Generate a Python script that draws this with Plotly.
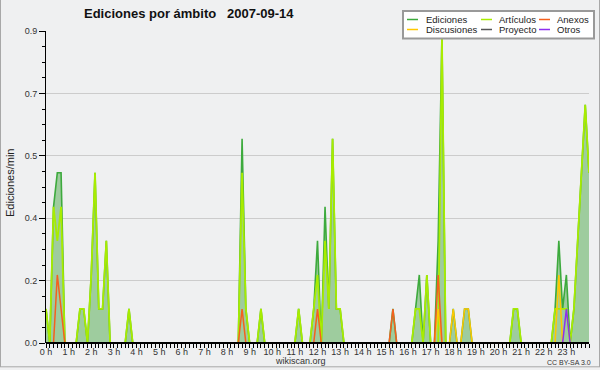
import plotly.graph_objects as go

# ---- data: edits per minute, 10-minute slots from 00:00 to 24:00 (145 slots) ----
minutes = list(range(0, 24 * 60 + 1, 10))
hours = [m / 60 for m in minutes]

ediciones = [
    0.1, 0, 0.4, 0.5, 0.5, 0,      # 0 h
    0, 0, 0, 0.1, 0.1, 0,          # 1 h
    0.2, 0.5, 0.1, 0.1, 0.3, 0,    # 2 h
    0, 0, 0, 0, 0.1, 0,            # 3 h
    0, 0, 0, 0, 0, 0,              # 4 h
    0, 0, 0, 0, 0, 0,              # 5 h
    0, 0, 0, 0, 0, 0,              # 6 h
    0, 0, 0, 0, 0, 0,              # 7 h
    0, 0, 0, 0, 0.6, 0.1,          # 8 h
    0, 0, 0, 0.1, 0, 0,            # 9 h
    0, 0, 0, 0, 0, 0,              # 10 h
    0, 0.1, 0, 0, 0, 0.1,          # 11 h
    0.3, 0, 0.4, 0.1, 0.6, 0.1,    # 12 h
    0.1, 0, 0, 0, 0, 0,            # 13 h
    0, 0, 0, 0, 0, 0,              # 14 h
    0, 0, 0.1, 0, 0, 0,            # 15 h
    0, 0, 0.1, 0.2, 0, 0.2,        # 16 h
    0, 0, 0.3, 0.9, 0, 0,          # 17 h
    0.1, 0, 0, 0.1, 0.1, 0,        # 18 h
    0, 0, 0, 0, 0, 0,              # 19 h
    0, 0, 0, 0, 0.1, 0.1,          # 20 h
    0, 0, 0, 0, 0, 0,              # 21 h
    0, 0, 0, 0.1, 0.3, 0.1,        # 22 h
    0.2, 0, 0.1, 0.3, 0.5, 0.7,    # 23 h
    0.5,
]

articulos = [
    0.1, 0, 0.4, 0.3, 0.4, 0,      # 0 h
    0, 0, 0, 0.1, 0.1, 0,          # 1 h
    0.2, 0.5, 0.1, 0.1, 0.3, 0,    # 2 h
    0, 0, 0, 0, 0.1, 0,            # 3 h
    0, 0, 0, 0, 0, 0,              # 4 h
    0, 0, 0, 0, 0, 0,              # 5 h
    0, 0, 0, 0, 0, 0,              # 6 h
    0, 0, 0, 0, 0, 0,              # 7 h
    0, 0, 0, 0, 0.5, 0.1,          # 8 h
    0, 0, 0, 0.1, 0, 0,            # 9 h
    0, 0, 0, 0, 0, 0,              # 10 h
    0, 0.1, 0, 0, 0, 0.1,          # 11 h
    0.2, 0, 0.3, 0.1, 0.6, 0.1,    # 12 h
    0.1, 0, 0, 0, 0, 0,            # 13 h
    0, 0, 0, 0, 0, 0,              # 14 h
    0, 0, 0, 0, 0, 0,              # 15 h
    0, 0, 0.1, 0.1, 0, 0.2,        # 16 h
    0, 0, 0, 0.9, 0, 0,            # 17 h
    0, 0, 0, 0, 0, 0,              # 18 h
    0, 0, 0, 0, 0, 0,              # 19 h
    0, 0, 0, 0, 0.1, 0.1,          # 20 h
    0, 0, 0, 0, 0, 0,              # 21 h
    0, 0, 0, 0.1, 0.1, 0.1,        # 22 h
    0.1, 0, 0.1, 0.3, 0.5, 0.7,    # 23 h
    0.5,
]

anexos = [
    0, 0, 0, 0.2, 0.1, 0,          # 0 h
    0, 0, 0, 0, 0, 0,              # 1 h
    0, 0, 0, 0, 0, 0,              # 2 h
    0, 0, 0, 0, 0, 0,              # 3 h
    0, 0, 0, 0, 0, 0,              # 4 h
    0, 0, 0, 0, 0, 0,              # 5 h
    0, 0, 0, 0, 0, 0,              # 6 h
    0, 0, 0, 0, 0, 0,              # 7 h
    0, 0, 0, 0, 0.1, 0,            # 8 h
    0, 0, 0, 0, 0, 0,              # 9 h
    0, 0, 0, 0, 0, 0,              # 10 h
    0, 0, 0, 0, 0, 0,              # 11 h
    0.1, 0, 0, 0, 0, 0,            # 12 h
    0, 0, 0, 0, 0, 0,              # 13 h
    0, 0, 0, 0, 0, 0,              # 14 h
    0, 0, 0.1, 0, 0, 0,            # 15 h
    0, 0, 0, 0, 0, 0,              # 16 h
    0, 0, 0.2, 0, 0, 0,            # 17 h
    0, 0, 0, 0, 0, 0,              # 18 h
    0, 0, 0, 0, 0, 0,              # 19 h
    0, 0, 0, 0, 0, 0,              # 20 h
    0, 0, 0, 0, 0, 0,              # 21 h
    0, 0, 0, 0, 0, 0,              # 22 h
    0, 0, 0, 0, 0, 0,              # 23 h
    0,
]

discusiones = [
    0, 0, 0, 0, 0, 0,              # 0 h
    0, 0, 0, 0, 0, 0,              # 1 h
    0, 0, 0, 0, 0, 0,              # 2 h
    0, 0, 0, 0, 0, 0,              # 3 h
    0, 0, 0, 0, 0, 0,              # 4 h
    0, 0, 0, 0, 0, 0,              # 5 h
    0, 0, 0, 0, 0, 0,              # 6 h
    0, 0, 0, 0, 0, 0,              # 7 h
    0, 0, 0, 0, 0, 0,              # 8 h
    0, 0, 0, 0, 0, 0,              # 9 h
    0, 0, 0, 0, 0, 0,              # 10 h
    0, 0, 0, 0, 0, 0,              # 11 h
    0, 0, 0, 0, 0, 0,              # 12 h
    0, 0, 0, 0, 0, 0,              # 13 h
    0, 0, 0, 0, 0, 0,              # 14 h
    0, 0, 0, 0, 0, 0,              # 15 h
    0, 0, 0, 0, 0, 0,              # 16 h
    0, 0, 0.1, 0, 0, 0,            # 17 h
    0.1, 0, 0, 0.1, 0.1, 0,        # 18 h
    0, 0, 0, 0, 0, 0,              # 19 h
    0, 0, 0, 0, 0, 0,              # 20 h
    0, 0, 0, 0, 0, 0,              # 21 h
    0, 0, 0, 0, 0.2, 0,            # 22 h
    0, 0, 0, 0, 0, 0,              # 23 h
    0,
]

proyecto = [0] * 145

otros = [
    0, 0, 0, 0, 0, 0,              # 0 h
    0, 0, 0, 0, 0, 0,              # 1 h
    0, 0, 0, 0, 0, 0,              # 2 h
    0, 0, 0, 0, 0, 0,              # 3 h
    0, 0, 0, 0, 0, 0,              # 4 h
    0, 0, 0, 0, 0, 0,              # 5 h
    0, 0, 0, 0, 0, 0,              # 6 h
    0, 0, 0, 0, 0, 0,              # 7 h
    0, 0, 0, 0, 0, 0,              # 8 h
    0, 0, 0, 0, 0, 0,              # 9 h
    0, 0, 0, 0, 0, 0,              # 10 h
    0, 0, 0, 0, 0, 0,              # 11 h
    0, 0, 0, 0, 0, 0,              # 12 h
    0, 0, 0, 0, 0, 0,              # 13 h
    0, 0, 0, 0, 0, 0,              # 14 h
    0, 0, 0, 0, 0, 0,              # 15 h
    0, 0, 0, 0, 0, 0,              # 16 h
    0, 0, 0, 0, 0, 0,              # 17 h
    0, 0, 0, 0, 0, 0,              # 18 h
    0, 0, 0, 0, 0, 0,              # 19 h
    0, 0, 0, 0, 0, 0,              # 20 h
    0, 0, 0, 0, 0, 0,              # 21 h
    0, 0, 0, 0, 0, 0,              # 22 h
    0.1, 0, 0, 0, 0, 0,            # 23 h
    0,
]

hour_ticks = list(range(24))
hour_labels = [f"{h} h" for h in hour_ticks]

y_max = 0.91667
y_step = y_max / 5
y_tickvals = [k * y_step for k in range(6)]
y_ticktext = ["0.0", "0.2", "0.4", "0.5", "0.7", "0.9"]

# ---- styling ----
BG = "#eff0f1"
C_ED = "#3daa3d"
C_ART = "#a8ec00"
C_ANE = "#f5601e"
C_DIS = "#ffc800"
C_PRO = "#555555"
C_OTR = "#8e2ff0"
NARROW = "Liberation Sans Narrow, Liberation Sans, Arial, sans-serif"
SANS = "Liberation Sans, Arial, sans-serif"

W, H = 600, 370
ML, MR, MT, MB = 46, 11, 31, 27
PW, PH = W - ML - MR, H - MT - MB


def px(x):
    return (x - ML) / PW


def py(y):
    return (H - MB - y) / PH


fig = go.Figure()
fig.add_trace(go.Scatter(x=hours, y=ediciones, name="Ediciones", mode="lines",
                         line=dict(color=C_ED, width=1.6), fill="tozeroy",
                         fillcolor="#9ecc9e"))
fig.add_trace(go.Scatter(x=hours, y=proyecto, name="Proyecto", mode="lines",
                         line=dict(color=C_PRO, width=1.4)))
fig.add_trace(go.Scatter(x=hours, y=articulos, name="Artículos", mode="lines",
                         line=dict(color=C_ART, width=1.8)))
fig.add_trace(go.Scatter(x=hours, y=discusiones, name="Discusiones", mode="lines",
                         line=dict(color=C_DIS, width=1.5)))
fig.add_trace(go.Scatter(x=hours, y=anexos, name="Anexos", mode="lines",
                         line=dict(color=C_ANE, width=1.5)))
fig.add_trace(go.Scatter(x=hours, y=otros, name="Otros", mode="lines",
                         line=dict(color=C_OTR, width=1.5)))

minor_y = [k * y_step / 4 for k in range(21) if k % 4]

fig.update_layout(
    width=W, height=H,
    margin=dict(l=ML, r=MR, t=MT, b=MB, autoexpand=False),
    paper_bgcolor=BG, plot_bgcolor=BG,
    showlegend=False,
    xaxis=dict(range=[0, 24], tickmode="array", tickvals=hour_ticks, ticktext=hour_labels,
               automargin=False,
               showgrid=False, zeroline=False, showline=False,
               ticks="outside", ticklen=4, tickcolor="black", tickwidth=1,
               ticklabelstandoff=-4,
               tickfont=dict(family=NARROW, size=9, color="#333"),
               minor=dict(dtick=1 / 6, ticks="outside", ticklen=4, tickcolor="black", showgrid=False)),
    yaxis=dict(range=[0, y_max], tickmode="array", tickvals=y_tickvals, ticktext=y_ticktext,
               automargin=False,
               showgrid=True, gridcolor="#cccccc", gridwidth=1, zeroline=False,
               showline=True, linecolor="black", linewidth=1,
               ticks="outside", ticklen=6, tickcolor="black", tickwidth=1,
               tickfont=dict(family=NARROW, size=9, color="#333"),
               minor=dict(tickmode="array", tickvals=minor_y, ticks="outside", ticklen=3,
                          tickcolor="black", showgrid=False)),
)

annotations = [
    dict(text="<b>Ediciones por ámbito   2007-09-14</b>", x=px(188.5), y=py(13.5),
         font=dict(family=SANS, size=13, color="#111")),
    dict(text="Ediciones/min", x=px(10), y=py(183), textangle=-90,
         font=dict(family=SANS, size=11, color="#222")),
    dict(text="wikiscan.org", x=px(300.8), y=py(361),
         font=dict(family=SANS, size=9, color="#333")),
    dict(text="CC BY-SA 3.0", x=px(569), y=py(362),
         font=dict(family=NARROW, size=7, color="#333")),
]
for a in annotations:
    a.update(xref="paper", yref="paper", showarrow=False, xanchor="center", yanchor="middle")

shapes = [
    # x axis baseline (drawn over the zero level of the series)
    dict(type="line", x0=0, x1=1, y0=0, y1=0, line=dict(color="black", width=2)),
    # frame lines around image
    dict(type="line", x0=px(0.5), x1=px(0.5), y0=py(0), y1=py(367), line=dict(color="#a8a8a8", width=1)),
    dict(type="line", x0=px(599.5), x1=px(599.5), y0=py(0), y1=py(367), line=dict(color="#a8a8a8", width=1)),
    dict(type="line", x0=px(0), x1=px(600), y0=py(366.8), y1=py(366.8), line=dict(color="#a8a8a8", width=1)),
    # legend box
    dict(type="rect", x0=px(403), x1=px(594), y0=py(11), y1=py(38.5),
         fillcolor="white", line=dict(color="#999999", width=2)),
]

legend_items = [
    ("Ediciones", C_ED, 407, 424, 19.5),
    ("Artículos", C_ART, 481, 497, 19.5),
    ("Anexos", C_ANE, 539, 555, 19.5),
    ("Discusiones", C_DIS, 407, 424, 29.5),
    ("Proyecto", C_PRO, 481, 497, 29.5),
    ("Otros", C_OTR, 539, 555, 29.5),
]
for name, col, lx, tx, ly in legend_items:
    shapes.append(dict(type="line", x0=px(lx), x1=px(lx + 11), y0=py(ly), y1=py(ly),
                       line=dict(color=col, width=1.5)))
    annotations.append(dict(text=name, x=px(tx), y=py(ly), xref="paper", yref="paper",
                            showarrow=False, xanchor="left", yanchor="middle",
                            font=dict(family=SANS, size=9.5, color="#222")))

for s in shapes:
    s.update(xref="paper", yref="paper", layer="above")
fig.update_layout(shapes=shapes, annotations=annotations)

fig.write_html("out.html", config={"displayModeBar": False},
               post_script="document.body.style.margin='0';document.body.style.padding='0';")
